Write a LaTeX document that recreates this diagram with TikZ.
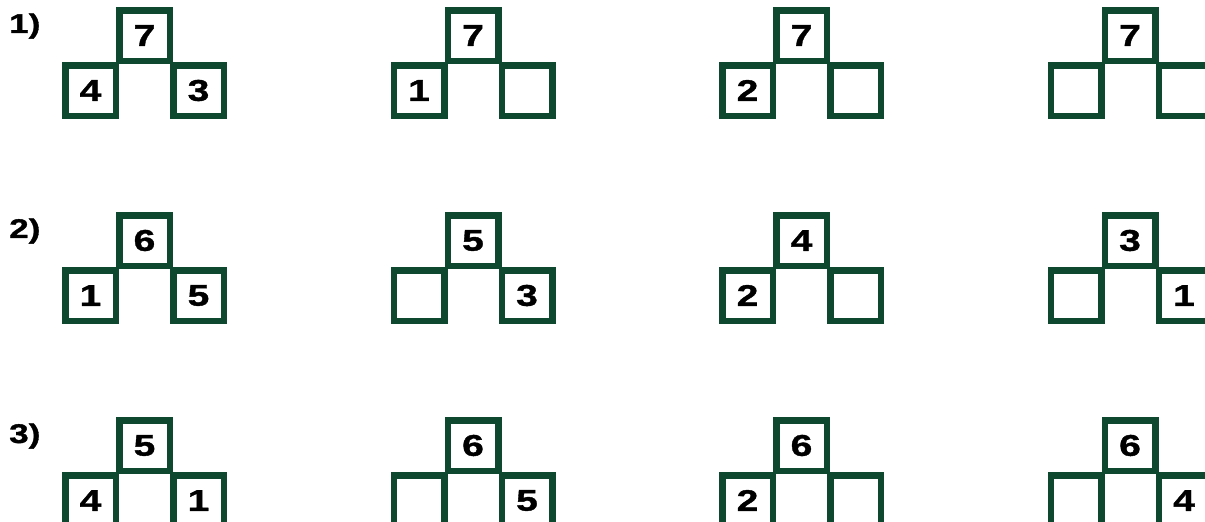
\documentclass[tikz,border=0pt]{standalone}
\usepackage{fontspec}
\setmainfont{Liberation Sans}
\newfontfamily\widefont{Liberation Sans}[FakeStretch=1.3, BoldFeatures={FakeBold=1.2}]
\usetikzlibrary{positioning}
\definecolor{boxgreen}{RGB}{14,72,46}

\begin{document}
\begin{tikzpicture}[
        x=1pt, y=-1pt,
        cell/.style={
            draw=boxgreen,
            line width=6.5pt,
            minimum size=50.5pt,
            inner sep=0pt,
            font=\widefont\bfseries\fontsize{30}{30}\selectfont
        },
        tasknum/.style={
            anchor=west,
            inner sep=0pt,
            font=\widefont\bfseries\fontsize{27}{27}\selectfont
        },
        node distance=55pt and 54pt
    ]
        \useasboundingbox (0,0) rectangle (1205,522);
        \clip (0,0) rectangle (1205,522);

        % task labels
        \foreach \r in {1,2,3} {
            \node[tasknum] (label-\r) at (9, {(\r-1)*205+26}) {\r)};
        }

        % row/column/top/left/right
        \foreach \r/\c/\t/\l/\rt in {
            1/1/7/4/3, 1/2/7/1/{}, 1/3/7/2/{}, 1/4/7/{}/{},
            2/1/6/1/5, 2/2/5/{}/3, 2/3/4/2/{}, 2/4/3/{}/1,
            3/1/5/4/1, 3/2/6/{}/5, 3/3/6/2/{}, 3/4/6/{}/4} {
            \node[cell] (top-\r-\c) at ({144.5+(\c-1)*328.5}, {(\r-1)*205+35.5}) {\t};
            \node[cell, on grid, below left=of top-\r-\c] (left-\r-\c) {\l};
            \node[cell, on grid, below right=of top-\r-\c] (right-\r-\c) {\rt};
        }
    \end{tikzpicture}
\end{document}
